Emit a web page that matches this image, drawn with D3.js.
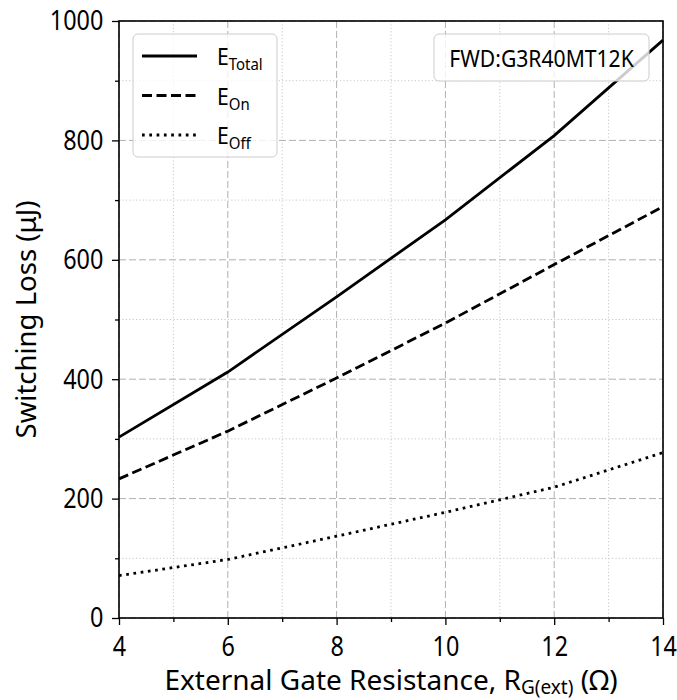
<!DOCTYPE html>
<html>
<head>
<meta charset="utf-8">
<script src="https://cdn.jsdelivr.net/npm/d3@7"></script>
<style>
  html, body { margin: 0; padding: 0; background: #fff; }
</style>
</head>
<body>
<div id="chart"></div>
<script>
var rg = [4, 6, 8, 10, 12, 14];
var eTotal = [303, 412, 538, 667, 808, 968];
var eOn = [233, 313, 402, 494, 592, 689];
var eOff = [71, 98, 137, 177, 219, 277];
var xTicks = [4, 6, 8, 10, 12, 14];
var yTicks = [0, 200, 400, 600, 800, 1000];
var xMinor = [5, 7, 9, 11, 13];
var yMinor = [100, 300, 500, 700, 900];
var seriesNames = ['Total', 'On', 'Off'];
var deviceLabel = 'FWD:G3R40MT12K';

(function() {
  var FONT = '"Noto Sans", "DejaVu Sans", sans-serif';
  var NARROW = 0.85;
  var w = 677, h = 700;
  var margin = { top: 21, right: 14, bottom: 82, left: 119 };
  var iw = w - margin.left - margin.right;
  var ih = h - margin.top - margin.bottom;

  var svg = d3.select('#chart').append('svg').attr('width', w).attr('height', h);
  var g = svg.append('g').attr('transform', 'translate(' + margin.left + ',' + margin.top + ')');

  var x = d3.scaleLinear().domain([4, 14]).range([0, iw]);
  var y = d3.scaleLinear().domain([0, 1000]).range([ih, 0]);

  // Minor grid (dotted)
  g.append('g').selectAll('line').data(xMinor).join('line')
    .attr('x1', x).attr('x2', x).attr('y1', 0).attr('y2', ih)
    .attr('stroke', '#c8c8c8').attr('stroke-width', 1).attr('stroke-dasharray', '1.2,2.2');
  g.append('g').selectAll('line').data(yMinor).join('line')
    .attr('x1', 0).attr('x2', iw).attr('y1', y).attr('y2', y)
    .attr('stroke', '#c8c8c8').attr('stroke-width', 1).attr('stroke-dasharray', '1.2,2.2');

  // Major grid (dashed)
  g.append('g').selectAll('line').data(xTicks).join('line')
    .attr('x1', x).attr('x2', x).attr('y1', 0).attr('y2', ih)
    .attr('stroke', '#b0b0b0').attr('stroke-width', 1).attr('stroke-dasharray', '7,3');
  g.append('g').selectAll('line').data(yTicks).join('line')
    .attr('x1', 0).attr('x2', iw).attr('y1', y).attr('y2', y)
    .attr('stroke', '#b0b0b0').attr('stroke-width', 1).attr('stroke-dasharray', '7,3');

  // Curves
  var line = d3.line().x(function(d) { return x(d[0]); }).y(function(d) { return y(d[1]); });
  var series = [
    { vals: eTotal, dash: null },
    { vals: eOn, dash: '10,4.5' },
    { vals: eOff, dash: '2.7,4.6' }
  ];
  series.forEach(function(s) {
    g.append('path').datum(rg.map(function(r, i) { return [r, s.vals[i]]; }))
      .attr('d', line).attr('fill', 'none').attr('stroke', '#000')
      .attr('stroke-width', 2.8).attr('stroke-dasharray', s.dash);
  });

  // Axes (tick labels squeezed horizontally to mimic the condensed face)
  var styleAxis = function(a) {
    a.select('.domain').remove();
    a.selectAll('.tick line').attr('stroke', '#000').attr('stroke-width', 1.3);
    a.selectAll('.tick text').attr('fill', '#000').attr('font-size', '27.5px').attr('font-family', FONT)
      .attr('transform', 'scale(' + NARROW + ',1)');
  };
  g.append('g').attr('transform', 'translate(0,' + ih + ')')
    .call(d3.axisBottom(x).tickValues(xMinor).tickSize(4).tickFormat(''))
    .call(styleAxis);
  g.append('g').attr('transform', 'translate(0,' + ih + ')')
    .call(d3.axisBottom(x).tickValues(xTicks).tickSize(7).tickPadding(11).tickFormat(d3.format('d')))
    .call(styleAxis);
  g.append('g')
    .call(d3.axisLeft(y).tickValues(yMinor).tickSize(4).tickFormat(''))
    .call(styleAxis);
  g.append('g')
    .call(d3.axisLeft(y).tickValues(yTicks).tickSize(7).tickPadding(11.5).tickFormat(d3.format('d')))
    .call(styleAxis);

  // Frame
  g.append('rect').attr('width', iw).attr('height', ih)
    .attr('fill', 'none').attr('stroke', '#000').attr('stroke-width', 1.6);

  // Legend
  var lg = g.append('g').attr('transform', 'translate(14,13)');
  lg.append('rect').attr('width', 144).attr('height', 123).attr('rx', 5)
    .attr('fill', '#fff').attr('fill-opacity', 0.8).attr('stroke', '#cccccc').attr('stroke-width', 1);
  series.forEach(function(s, i) {
    var cy = 22 + i * 39.5;
    lg.append('line').attr('x1', 9).attr('x2', 64).attr('y1', cy).attr('y2', cy)
      .attr('stroke', '#000').attr('stroke-width', 2.8).attr('stroke-dasharray', s.dash);
    var t = lg.append('text').attr('transform', 'translate(84,' + (cy + 9) + ') scale(0.88,1)')
      .attr('font-family', FONT).attr('font-size', '24px').attr('fill', '#000');
    t.append('tspan').text('E');
    t.append('tspan').attr('dy', 5).attr('font-size', '17px').text(seriesNames[i]);
  });

  // Device label box
  var db = g.append('g').attr('transform', 'translate(315,13)');
  db.append('rect').attr('width', 215).attr('height', 47).attr('rx', 5)
    .attr('fill', '#fff').attr('fill-opacity', 0.8).attr('stroke', '#cccccc').attr('stroke-width', 1);
  db.append('text').attr('transform', 'translate(107.5,32.5) scale(0.88,1)').attr('text-anchor', 'middle')
    .attr('font-family', FONT).attr('font-size', '24px').attr('fill', '#000').text(deviceLabel);

  // Axis labels
  var xl = svg.append('text').attr('x', margin.left + iw / 2).attr('y', 690)
    .attr('text-anchor', 'middle').attr('font-family', FONT).attr('font-size', '28px').attr('fill', '#000');
  xl.append('tspan').text('External Gate Resistance, R');
  xl.append('tspan').attr('dy', 4).attr('font-size', '19px').text('G(ext)');
  xl.append('tspan').attr('dy', -4).text(' (\u03A9)');

  svg.append('text').attr('transform', 'rotate(-90)')
    .attr('x', -(margin.top + ih / 2)).attr('y', 36)
    .attr('text-anchor', 'middle').attr('font-family', FONT).attr('font-size', '27.5px').attr('fill', '#000')
    .text('Switching Loss (\u03BCJ)');
})();
</script>
</body>
</html>
